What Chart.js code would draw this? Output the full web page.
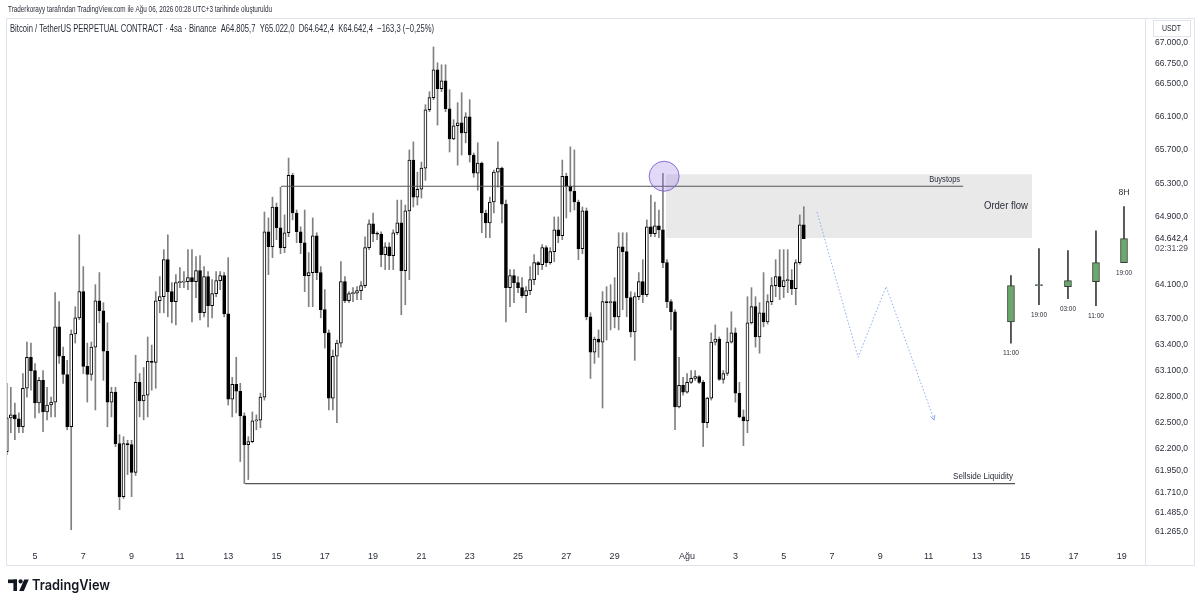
<!DOCTYPE html>
<html lang="tr">
<head>
<meta charset="UTF-8">
<title>BTCUSDT.P 4sa</title>
<script src="https://cdn.jsdelivr.net/npm/chart.js@4.4.1/dist/chart.umd.min.js"></script>
<style>
    html, body { margin: 0; padding: 0; background: #ffffff; }
    #wrap { width: 1200px; height: 605px; position: relative; }
</style>
</head>
<body>
<div id="wrap"><canvas id="btcChart"></canvas></div>

<script>
    // 4h candles, first one opens Jul 3 20:00 (x axis is in days of July, Aug 1 = 32)
    const firstCandleDay = 3.8333;
    const firstOpen = 62171;

    const closes = [
        62556,62590,62545,62454,62896,63254,63100,62726,62987,62624,
        62703,62737,63607,63266,63055,62454,63524,63712,64018,63148,
        63055,63371,63912,63795,63324,62737,62851,62262,61661,62262,
        62250,61933,62964,62749,62817,63207,63195,63912,63959,64394,
        64018,63901,64124,64130,64136,64183,64136,64265,63771,64195,
        63854,63995,64148,64206,63759,62771,62941,62862,62579,62250,
        62284,62522,62530,62794,64724,64547,65018,64771,64536,64712,
        65397,64947,64724,64594,64206,64242,64677,64242,63807,63536,
        62783,63266,63418,64136,63912,63995,64000,64030,64089,64536,
        64818,64700,64695,64453,64547,64441,64712,64830,64265,64971,
        65579,65135,65229,65482,66186,66332,66672,66441,66538,66198,
        65834,65992,66028,65907,66101,65640,65421,65543,64947,64830,
        65077,65434,65482,65053,64065,64206,64124,64065,63971,64030,
        64159,64359,64336,64536,64359,64489,64747,64677,65385,65265,
        65206,65077,64524,64971,63724,63313,63465,63430,63901,63889,
        63901,63724,64547,64489,63948,63548,63959,64136,63983,64783,
        64700,64794,64747,64359,63901,63783,62681,62930,62851,62964,
        63009,63032,62964,62500,62783,63430,63465,62998,63066,63430,
        63536,62839,62567,62522,63654,63842,63489,63771,63665,63901,
        64089,64195,64077,64148,64150,64053,64359,64805.7,64642.4
    ];
    const highs = [
        62953,62907,62726,62613,63066,63430,63418,63182,63021,63100,
        62907,62794,64006,63901,63371,63218,63571,63842,64688,64312,
        63418,63430,64100,64242,63889,63654,62907,62907,62364,62341,
        62300,62300,63277,63066,63135,63489,63395,64018,64195,64512,
        64688,64124,64218,64300,64253,64512,64512,64430,64441,64312,
        64253,64159,64253,64253,64242,64418,63021,63254,62953,62613,
        62341,62624,62590,62839,64959,64888,65135,65065,65253,64924,
        65603,65421,64982,64783,64982,64477,64888,64712,64312,64042,
        63571,63336,63454,64371,64195,64018,64065,64077,64136,64665,
        64865,64947,64724,64724,64594,64594,64747,65100,65100,65041,
        65701,65798,65434,65555,66247,66405,66951,66757,66733,66733,
        66429,66065,66271,66393,66150,66308,65664,65786,65555,64982,
        65135,65458,65798,65494,65100,64277,64277,64195,64183,64077,
        64312,64453,64371,64571,64559,64536,64900,64900,65579,65421,
        65737,65701,65100,65018,65006,63771,63489,63571,64018,64077,
        64100,64183,64712,64712,64712,64018,64006,64242,64394,64865,
        65159,65077,64982,65421,64394,63924,63807,63254,63021,63066,
        63100,63100,63043,62987,62794,63536,63630,63489,63100,63595,
        63783,63595,62964,62647,63959,64065,63959,63889,64242,63983,
        64183,64394,64512,64512,64512,64277,64394,64924,65022
    ];
    const lows = [
        62137,62386,62307,62386,62386,62794,62873,62556,62613,62398,
        62533,62567,62567,63183,62953,62420,61287,63418,63690,63066,
        62737,62987,62647,63654,62987,62454,62567,62228,61514,61640,
        61910,61661,61900,62567,62533,62567,62873,62896,63771,63771,
        63724,63654,63630,64065,64065,64042,63665,63948,63689,63724,
        63607,63712,63959,64042,63724,62703,62567,62613,62058,61808,
        61854,62273,62420,62443,62760,64218,64418,64630,64465,64477,
        64665,64865,64594,64465,64018,63842,63842,64159,63712,63360,
        62647,62647,62500,63371,63889,63889,63901,63924,63924,64065,
        64512,64606,64630,64312,64277,64277,64277,64690,63748,63865,
        64159,65018,65041,65124,65336,66162,66308,66000,66405,66162,
        65676,65822,65518,65640,65786,65555,65373,65218,64712,64653,
        64653,64947,65253,64830,63665,63842,63889,64006,63948,63771,
        63983,64100,64218,64277,64312,64340,64371,64594,64630,64888,
        64959,64982,64394,64465,63689,63009,63183,63254,62669,63454,
        63571,63595,63571,63807,63724,63489,63218,63924,63889,63959,
        64665,64665,64653,64300,63830,63571,62420,62669,62817,62839,
        62953,62987,62953,62228,62443,62760,63395,62987,62953,63043,
        63418,62737,62556,62239,62386,63640,63371,63301,63607,63640,
        63865,63959,63924,63948,64006,63983,63865,64340,64642.4
    ];

    // 8H candles widget on the right
    const htfDays = [45.41, 46.57, 47.77, 48.93, 50.09];
    const htfOpens = [63665, 64089, 64077, 64136, 64359];
    const htfHighs = [64206, 64524, 64500, 64736, 65022];
    const htfLows = [63418, 63865, 63936, 63854, 64359];
    const htfCloses = [64089, 64089, 64148, 64359, 64642.4];
    const htfLabels = ['11:00', '19:00', '03:00', '11:00', '19:00'];

    // axis ticks
    const yTickValues = [67000, 66750, 66500, 66100, 65700, 65300, 64900, 64100, 63700,
                         63400, 63100, 62800, 62500, 62200, 61950, 61710, 61485, 61265];
    const xTickDays = [5, 7, 9, 11, 13, 15, 17, 19, 21, 23, 25, 27, 29, 32, 34, 36, 38, 40, 42, 44, 46, 48, 50];
    const xTickLabels = ['5', '7', '9', '11', '13', '15', '17', '19', '21', '23', '25', '27', '29',
                         'Ağu', '3', '5', '7', '9', '11', '13', '15', '17', '19'];

    // drawings
    const buystopsDays = [15.19, 43.43];
    const buystopsPrice = 65265;
    const sellsideDays = [13.7, 45.58];
    const sellsidePrice = 61808;
    const orderFlowDays = [31.13, 46.28];
    const orderFlowPrices = [64650, 65409];
    const circleDay = 31.05;
    const circlePrice = 65385;
    const pathDays = [37.38, 39.08, 40.24, 42.23];
    const pathPrices = [64959, 63254, 64077, 62533];

    const opens = closes.map((c, i) => i === 0 ? firstOpen : closes[i - 1]);
    const candleDay = i => firstCandleDay + i / 6;

    function fmt(v) {
        const parts = Math.abs(v).toFixed(1).split('.');
        const intPart = parts[0].replace(/\B(?=(\d{3})+(?!\d))/g, '.');
        return (v < 0 ? '\u2212' : '') + intPart + ',' + parts[1];
    }

    // draws text squeezed/stretched to a given width
    function fitText(ctx, text, x, y, w, font, color, align) {
        ctx.save();
        ctx.font = font;
        ctx.fillStyle = color;
        ctx.textBaseline = 'middle';
        ctx.textAlign = 'left';
        const m = ctx.measureText(text).width;
        let x0 = x;
        if (align === 'right') x0 = x - w;
        if (align === 'center') x0 = x - w / 2;
        ctx.translate(x0, y);
        ctx.scale(w / m, 1);
        ctx.fillText(text, 0, 0);
        ctx.restore();
    }

    const FONT = '"Liberation Sans", Arial, sans-serif';
    const frameColor = '#e0e3eb';
    const textColor = '#2a2e39';

    const drawingsPlugin = {
        id: 'drawings',
        beforeDatasetsDraw(chart) {
            const { ctx, scales: { x, y } } = chart;
            const x0 = x.getPixelForValue(orderFlowDays[0]);
            const x1 = x.getPixelForValue(orderFlowDays[1]);
            const y0 = y.getPixelForValue(orderFlowPrices[1]);
            const y1 = y.getPixelForValue(orderFlowPrices[0]);
            ctx.save();
            ctx.fillStyle = 'rgba(200, 200, 200, 0.4)';
            ctx.fillRect(x0, y0, x1 - x0, y1 - y0);
            ctx.restore();
        },
        afterDatasetsDraw(chart) {
            const { ctx, scales: { x, y } } = chart;

            // circle on the sweep high
            ctx.save();
            ctx.beginPath();
            ctx.arc(x.getPixelForValue(circleDay), y.getPixelForValue(circlePrice), 15, 0, Math.PI * 2);
            ctx.fillStyle = 'rgba(149, 117, 225, 0.28)';
            ctx.strokeStyle = 'rgba(120, 90, 205, 0.85)';
            ctx.lineWidth = 1;
            ctx.fill();
            ctx.stroke();
            ctx.restore();

            // arrow head at the end of the projected path
            const n = pathDays.length;
            const ex = x.getPixelForValue(pathDays[n - 1]), ey = y.getPixelForValue(pathPrices[n - 1]);
            const px = x.getPixelForValue(pathDays[n - 2]), py = y.getPixelForValue(pathPrices[n - 2]);
            const a = Math.atan2(ey - py, ex - px);
            ctx.save();
            ctx.strokeStyle = 'rgba(110, 150, 240, 0.8)';
            ctx.lineWidth = 1;
            ctx.beginPath();
            ctx.moveTo(ex - 5 * Math.cos(a - 0.5), ey - 5 * Math.sin(a - 0.5));
            ctx.lineTo(ex, ey);
            ctx.lineTo(ex - 5 * Math.cos(a + 0.5), ey - 5 * Math.sin(a + 0.5));
            ctx.stroke();
            ctx.restore();

            // drawing labels
            fitText(ctx, 'Buystops', x.getPixelForValue(buystopsDays[1]) - 3, y.getPixelForValue(buystopsPrice) - 7,
                    31, '9px ' + FONT, textColor, 'right');
            fitText(ctx, 'Sellside Liquidity', x.getPixelForValue(sellsideDays[1]) - 2, y.getPixelForValue(sellsidePrice) - 7,
                    60, '9px ' + FONT, textColor, 'right');
            const ofMid = (y.getPixelForValue(orderFlowPrices[0]) + y.getPixelForValue(orderFlowPrices[1])) / 2;
            fitText(ctx, 'Order flow', x.getPixelForValue(orderFlowDays[1]) - 4, ofMid, 44, '10px ' + FONT, textColor, 'right');

            // 8H widget labels
            htfDays.forEach((d, i) => {
                fitText(ctx, htfLabels[i], x.getPixelForValue(d), y.getPixelForValue(htfLows[i]) + 10,
                        16, '7px ' + FONT, textColor, 'center');
            });
            fitText(ctx, '8H', x.getPixelForValue(htfDays[htfDays.length - 1]), 192, 11, '9.5px ' + FONT, textColor, 'center');
        },
        afterDraw(chart) {
            const { ctx, chartArea, scales: { y } } = chart;
            ctx.save();
            ctx.strokeStyle = frameColor;
            ctx.lineWidth = 1;
            ctx.strokeRect(6.5, 18.5, 1188, 547);
            ctx.beginPath();
            ctx.moveTo(Math.round(chartArea.right) + 0.5, 18.5);
            ctx.lineTo(Math.round(chartArea.right) + 0.5, 565.5);
            ctx.stroke();
            // USDT box
            ctx.strokeRect(1153.5, 20.5, 37, 16);
            ctx.restore();
            fitText(ctx, 'USDT', 1171.5, 29, 19, '8.5px ' + FONT, textColor, 'center');

            // header and legend
            fitText(ctx, 'Traderkorayy tarafından TradingView.com ile Ağu 06, 2026 00:28 UTC+3 tarihinde oluşturuldu',
                    8, 9, 264, '9.5px ' + FONT, textColor, 'left');
            const last = closes.length - 1;
            const chg = closes[last] - opens[last];
            const pct = chg / opens[last] * 100;
            const legend = 'Bitcoin / TetherUS PERPETUAL CONTRACT \u00b7 4sa \u00b7 Binance  A' + fmt(opens[last]) +
                '  Y' + fmt(highs[last]) + '  D' + fmt(lows[last]) + '  K' + fmt(closes[last]) +
                '  ' + fmt(chg) + ' (' + (pct < 0 ? '\u2212' : '') + Math.abs(pct).toFixed(2).replace('.', ',') + '%)';
            fitText(ctx, legend, 10, 29, 424, '10px ' + FONT, textColor, 'left');

            // last price + countdown on the price axis
            const py = y.getPixelForValue(closes[last]);
            fitText(ctx, fmt(closes[last]), 1155, py, 33, '8.5px ' + FONT, '#131722', 'left');
            fitText(ctx, '02:31:29', 1155, py + 10, 33, '8.5px ' + FONT, '#4a4e59', 'left');

            // TradingView logo
            ctx.save();
            ctx.fillStyle = '#131722';
            ctx.fillRect(8, 579.5, 9, 3.6);
            ctx.fillRect(13.4, 579.5, 3.6, 11.5);
            ctx.beginPath();
            ctx.arc(20.6, 581.4, 2.1, 0, Math.PI * 2);
            ctx.fill();
            ctx.beginPath();
            ctx.moveTo(24.2, 579.5);
            ctx.lineTo(28.8, 579.5);
            ctx.lineTo(23.8, 591);
            ctx.lineTo(19.2, 591);
            ctx.closePath();
            ctx.fill();
            ctx.restore();
            fitText(ctx, 'TradingView', 32, 585.5, 78, '600 14.5px Inter, "Liberation Sans", sans-serif', '#131722', 'left');
        }
    };

    const wickData = closes.map((c, i) => ({ x: candleDay(i), y: [lows[i], highs[i]] }));
    const bodyData = closes.map((c, i) => ({ x: candleDay(i), y: [opens[i], c] }));
    const bodyColors = closes.map((c, i) => c >= opens[i] ? '#ffffff' : '#000000');
    const htfWickData = htfDays.map((d, i) => ({ x: d, y: [htfLows[i], htfHighs[i]] }));
    const htfBodyData = htfDays.map((d, i) => ({ x: d, y: [htfOpens[i], htfCloses[i]] }));

    const ctx = document.getElementById('btcChart').getContext('2d');
    const btcChart = new Chart(ctx, {
        type: 'bar',
        data: {
            datasets: [
                {
                    label: 'wicks',
                    data: wickData,
                    backgroundColor: '#808080',
                    barThickness: 1,
                    grouped: false,
                    order: 3
                },
                {
                    label: 'bodies',
                    data: bodyData,
                    backgroundColor: bodyColors,
                    borderColor: '#000000',
                    borderWidth: 1,
                    borderSkipped: false,
                    barThickness: 3,
                    minBarLength: 1,
                    grouped: false,
                    order: 2
                },
                {
                    label: 'htf wicks',
                    data: htfWickData,
                    backgroundColor: '#3a3a3a',
                    barThickness: 1,
                    grouped: false,
                    order: 3
                },
                {
                    label: 'htf bodies',
                    data: htfBodyData,
                    backgroundColor: '#6aa86c',
                    borderColor: '#3a3a3a',
                    borderWidth: 1,
                    borderSkipped: false,
                    barThickness: 7,
                    minBarLength: 1,
                    grouped: false,
                    order: 2
                },
                {
                    type: 'line',
                    label: 'Buystops',
                    data: buystopsDays.map(d => ({ x: d, y: buystopsPrice })),
                    borderColor: '#555555',
                    borderWidth: 1.2,
                    pointRadius: 0,
                    order: -1
                },
                {
                    type: 'line',
                    label: 'Sellside Liquidity',
                    data: sellsideDays.map(d => ({ x: d, y: sellsidePrice })),
                    borderColor: '#555555',
                    borderWidth: 1.2,
                    pointRadius: 0,
                    order: -1
                },
                {
                    type: 'line',
                    label: 'path',
                    data: pathDays.map((d, i) => ({ x: d, y: pathPrices[i] })),
                    borderColor: 'rgba(110, 150, 240, 0.8)',
                    borderWidth: 1,
                    borderDash: [1.5, 2],
                    pointRadius: 0,
                    tension: 0,
                    order: -1
                }
            ]
        },
        options: {
            responsive: true,
            maintainAspectRatio: false,
            animation: false,
            layout: { padding: { left: 6, right: 5, top: 20, bottom: 40 } },
            plugins: {
                legend: { display: false },
                tooltip: { enabled: false }
            },
            scales: {
                x: {
                    type: 'linear',
                    min: 3.80,
                    max: 50.96,
                    bounds: 'data',
                    offset: false,
                    grid: { display: false, drawTicks: false },
                    border: { display: false },
                    afterBuildTicks: scale => { scale.ticks = xTickDays.map(v => ({ value: v })); },
                    afterFit: scale => { scale.height = 20; },
                    ticks: {
                        autoSkip: false,
                        maxRotation: 0,
                        padding: 6,
                        color: textColor,
                        font: { family: FONT, size: 9 },
                        callback: value => xTickLabels[xTickDays.indexOf(value)]
                    }
                },
                y: {
                    type: 'logarithmic',
                    position: 'right',
                    min: 61117,
                    max: 67282,
                    bounds: 'data',
                    grid: { display: false, drawTicks: false },
                    border: { display: false },
                    afterBuildTicks: scale => { scale.ticks = yTickValues.map(v => ({ value: v })); },
                    afterFit: scale => { scale.width = 50; },
                    ticks: {
                        autoSkip: false,
                        padding: 10,
                        color: textColor,
                        font: { family: FONT, size: 8.5 },
                        callback: value => fmt(value)
                    }
                }
            }
        },
        plugins: [drawingsPlugin]
    });
</script>
</body>
</html>
